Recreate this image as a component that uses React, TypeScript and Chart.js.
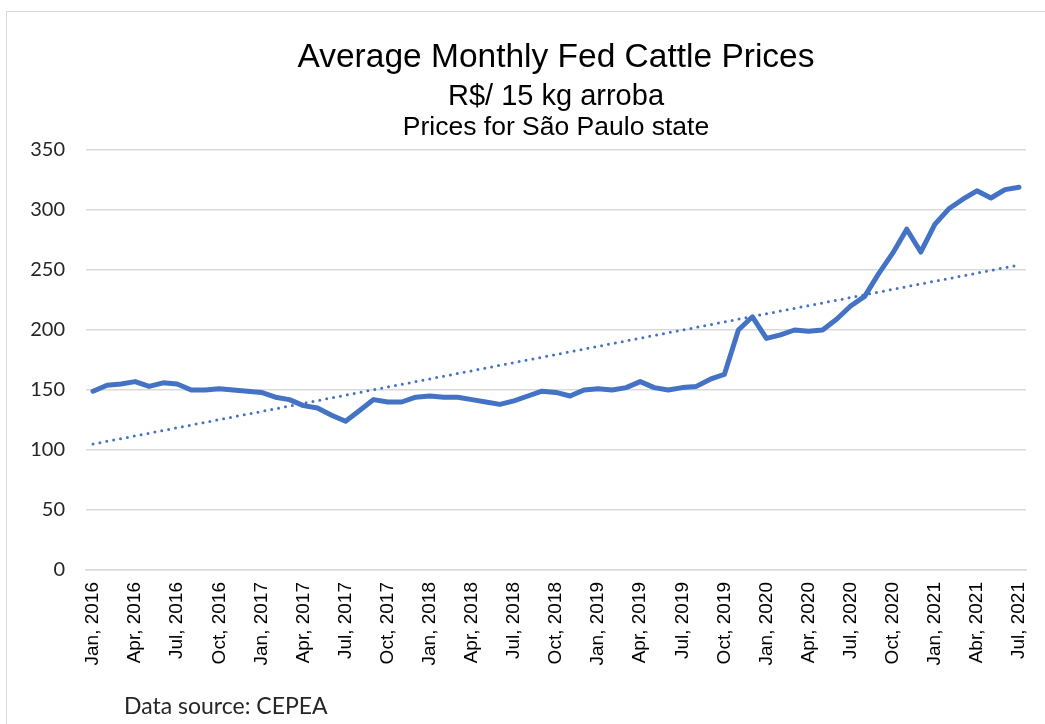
import React, { useEffect, useRef } from "react";
import { Chart, registerables } from "chart.js";

Chart.register(...registerables);

const monthNames = ["Jan", "Feb", "Mar", "Apr", "May", "Jun", "Jul", "Aug", "Sep", "Oct", "Nov", "Dec"];
const years = [2016, 2017, 2018, 2019, 2020, 2021];

const prices2016 = [149, 154, 155, 157, 153, 156, 155, 150, 150, 151, 150, 149];
const prices2017 = [148, 144, 142, 137, 135, 129, 124, 133, 142, 140, 140, 144];
const prices2018 = [145, 144, 144, 142, 140, 138, 141, 145, 149, 148, 145, 150];
const prices2019 = [151, 150, 152, 157, 152, 150, 152, 153, 159, 163, 200, 211];
const prices2020 = [193, 196, 200, 199, 200, 209, 220, 228, 247, 264, 284, 265];
const prices2021 = [288, 301, 309, 316, 310, 317, 319];

const prices = [...prices2016, ...prices2017, ...prices2018, ...prices2019, ...prices2020, ...prices2021];

const categories: string[] = [];
years.forEach((y) => {
  monthNames.forEach((m) => {
    if (categories.length < prices.length) {
      const name = y === 2021 && m === "Apr" ? "Abr" : m;
      categories.push(`${name}, ${y}`);
    }
  });
});

const yTicks = [0, 50, 100, 150, 200, 250, 300, 350];

const titleText = "Average Monthly Fed Cattle Prices";
const subtitle1 = "R$/ 15 kg arroba";
const subtitle2 = "Prices for São Paulo state";
const sourceText = "Data source: CEPEA";

// linear trend (least squares) of the price series, like Excel's linear trendline
function linearTrend(values: number[]): number[] {
  const n = values.length;
  let sx = 0, sy = 0, sxx = 0, sxy = 0;
  values.forEach((v, i) => {
    sx += i; sy += v; sxx += i * i; sxy += i * v;
  });
  const b = (n * sxy - sx * sy) / (n * sxx - sx * sx);
  const a = (sy - b * sx) / n;
  return values.map((_, i) => a + b * i);
}

const trend = linearTrend(prices);

const titlePlugin = {
  id: "customTitles",
  afterDraw(chart: any) {
    const { ctx, chartArea } = chart;
    const cx = (chartArea.left + chartArea.right) / 2;
    ctx.save();
    ctx.fillStyle = "#000000";
    ctx.textAlign = "center";
    ctx.textBaseline = "alphabetic";
    ctx.font = "33.5px 'Liberation Sans', Arial, sans-serif";
    ctx.fillText(titleText, cx, 67);
    ctx.font = "29px 'Liberation Sans', Arial, sans-serif";
    ctx.fillText(subtitle1, cx, 105);
    ctx.font = "26.5px 'Liberation Sans', Arial, sans-serif";
    ctx.fillText(subtitle2, cx, 135);
    ctx.textAlign = "left";
    ctx.fillStyle = "#262626";
    ctx.font = "23px Lato, 'Open Sans', sans-serif";
    ctx.fillText(sourceText, 124, 714);
    ctx.restore();
  },
};

export default function App() {
  const canvasRef = useRef<HTMLCanvasElement | null>(null);

  useEffect(() => {
    document.body.style.margin = "0";
    const canvas = canvasRef.current;
    if (!canvas) return;
    const chart = new Chart(canvas, {
      type: "line",
      data: {
        labels: categories,
        datasets: [
          {
            label: "Price",
            data: prices,
            borderColor: "#4472C4",
            backgroundColor: "#4472C4",
            borderWidth: 5,
            pointRadius: 0,
            tension: 0,
            borderJoinStyle: "round",
            borderCapStyle: "round",
          },
          {
            label: "Trend",
            data: trend,
            borderColor: "#4472C4",
            borderWidth: 3,
            borderDash: [0, 7],
            borderCapStyle: "round",
            pointRadius: 0,
            tension: 0,
          },
        ],
      },
      options: {
        responsive: false,
        animation: false,
        layout: { padding: { top: 150, left: 0, right: 19, bottom: 0 } },
        plugins: {
          legend: { display: false },
          title: { display: false },
          tooltip: { enabled: false },
        },
        scales: {
          x: {
            type: "category",
            offset: true,
            grid: { display: false, drawTicks: false },
            border: { display: true, color: "#d9d9d9", width: 1.5 },
            ticks: {
              autoSkip: false,
              maxRotation: 90,
              minRotation: 90,
              color: "#000000",
              padding: 12,
              font: { family: "'Liberation Sans', Arial, sans-serif", size: 19 },
              callback: (_v: any, i: number) => (i % 3 === 0 ? categories[i] : ""),
            },
            afterFit: (scale: any) => {
              scale.height = 154;
              scale.paddingLeft = 0;
              scale.paddingRight = 0;
            },
          },
          y: {
            min: 0,
            max: 350,
            afterBuildTicks: (scale: any) => {
              scale.ticks = yTicks.map((v) => ({ value: v }));
            },
            grid: { color: "#d9d9d9", lineWidth: 1.5, drawTicks: false },
            border: { display: false },
            ticks: {
              color: "#262626",
              padding: 21,
              font: { family: "Lato, 'Open Sans', sans-serif", size: 20 },
            },
            afterFit: (scale: any) => {
              scale.width = 86;
            },
          },
        },
      },
      plugins: [titlePlugin],
    });
    return () => chart.destroy();
  }, []);

  return (
    <div style={{ position: "relative", width: 1045, height: 724, overflow: "hidden", background: "#fff" }}>
      <div
        style={{
          position: "absolute",
          left: 6,
          top: 11,
          width: 1100,
          height: 800,
          border: "1.5px solid #d9d9d9",
          boxSizing: "border-box",
        }}
      />
      <canvas ref={canvasRef} width={1045} height={724} style={{ position: "absolute", left: 0, top: 0 }} />
    </div>
  );
}
